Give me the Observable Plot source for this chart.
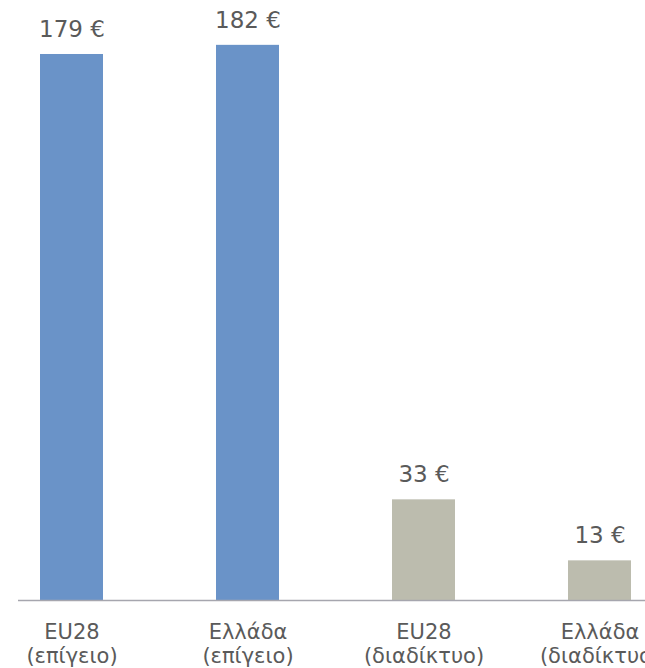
<!DOCTYPE html>
<html>
<head>
<meta charset="utf-8">
<script src="https://cdn.jsdelivr.net/npm/d3@7"></script>
<script src="https://cdn.jsdelivr.net/npm/@observablehq/plot@0.6"></script>
<style>
  html, body { margin: 0; padding: 0; background: #fff; overflow: hidden; }
</style>
</head>
<body>
<div id="chart"></div>
<script>
const categories = ["EU28\n(επίγειο)", "Ελλάδα\n(επίγειο)", "EU28\n(διαδίκτυο)", "Ελλάδα\n(διαδίκτυο)"];
const values = [179, 182, 33, 13];
const valueLabels = ["179 €", "182 €", "33 €", "13 €"];
const groups = ["επίγειο", "επίγειο", "διαδίκτυο", "διαδίκτυο"];

const data = categories.map((c, i) => ({category: c, value: values[i], label: valueLabels[i], group: groups[i]}));

const chart = Plot.plot({
  width: 645,
  height: 668,
  marginTop: 0,
  marginBottom: 68,
  marginLeft: 18,
  marginRight: 0,
  style: {fontFamily: "DejaVu Sans", fontSize: "21px", color: "#5a5a5a", background: "#fff"},
  x: {domain: categories, range: [38, 632], paddingInner: 0.644, paddingOuter: 0, label: null},
  y: {domain: [0, 196.7], axis: null},
  color: {domain: ["επίγειο", "διαδίκτυο"], range: ["#6a93c8", "#bcbcae"]},
  marks: [
    Plot.barY(data, {x: "category", y: "value", fill: "group"}),
    Plot.ruleY([0], {stroke: "#a6a6ae", strokeWidth: 1.6}),
    Plot.text(data, {x: "category", y: "value", text: "label", dy: -25, fill: "#5a5a5a", fontSize: 23}),
    Plot.axisX({tickSize: 0, tickPadding: 21, fontSize: 21, lineHeight: 1.16, fill: "#5a5a5a", label: null, textOverflow: null})
  ]
});
document.getElementById("chart").appendChild(chart);
</script>
</body>
</html>
